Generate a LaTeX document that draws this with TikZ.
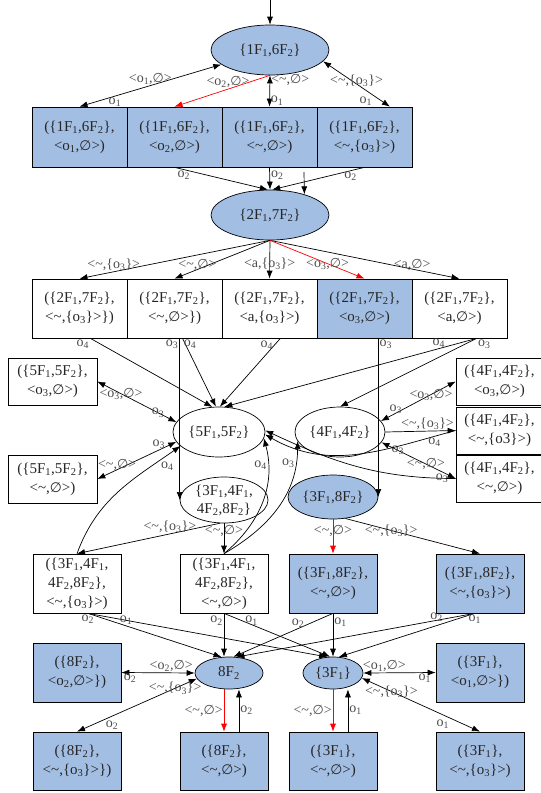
\documentclass[tikz,border=0pt]{standalone}
\usepackage{fontspec}
\setmainfont{Liberation Serif}
\newfontfamily\esfont[Scale=0.92]{DejaVu Sans}
\usetikzlibrary{arrows.meta,shapes.geometric}
\definecolor{stateblue}{RGB}{163,190,227}
\newcommand{\Fx}[1]{F\textsubscript{#1}}
\newcommand{\ox}[1]{o\textsubscript{#1}}
\newcommand{\es}{{\esfont ∅}}
\newcommand{\tl}{\textasciitilde}
\tikzset{
	st/.style={ellipse,draw,inner sep=0pt,align=center,font=\fontsize{15}{18}\selectfont,text=black!85},
	pr/.style={rectangle,draw,inner sep=0pt,align=center,minimum width=88pt,minimum height=59pt,font=\fontsize{15}{19}\selectfont,text=black!85},
	hl/.style={fill=stateblue},
	lab/.style={font=\fontsize{14}{15}\selectfont,text=black!70,inner sep=1pt}
}
\begin{document}
\begin{tikzpicture}[x=1pt,y=-1pt,line width=.7pt,>={Latex[length=8pt,width=6pt]}]
	\useasboundingbox (0,0) rectangle (541,793);
	\node[st,hl,minimum width=118pt,minimum height=50pt] (s1) at (270,50) {\{1\Fx{1},6\Fx{2}\}};
	\node[pr,hl,minimum width=95pt,minimum height=60pt] (b11) at (79.5,137) {(\{1\Fx{1},6\Fx{2}\},\\<\ox{1},\es>)};
	\node[pr,hl,minimum width=95pt,minimum height=60pt] (b12) at (174.5,137) {(\{1\Fx{1},6\Fx{2}\},\\<\ox{2},\es>)};
	\node[pr,hl,minimum width=95pt,minimum height=60pt] (b13) at (269.5,137) {(\{1\Fx{1},6\Fx{2}\},\\<\tl,\es>)};
	\node[pr,hl,minimum width=95pt,minimum height=60pt] (b14) at (364.5,137) {(\{1\Fx{1},6\Fx{2}\},\\<\tl,\{\ox{3}\}>)};
	\node[st,hl,minimum width=118pt,minimum height=50pt] (s2) at (270,215) {\{2\Fx{1},7\Fx{2}\}};
	\node[pr,minimum width=95pt] (b21) at (79.5,308.5) {(\{2\Fx{1},7\Fx{2}\},\\<\tl,\{\ox{3}\}>\})};
	\node[pr,minimum width=95pt] (b22) at (174.5,308.5) {(\{2\Fx{1},7\Fx{2}\},\\<\tl,\es>\})};
	\node[pr,minimum width=95pt] (b23) at (269.5,308.5) {(\{2\Fx{1},7\Fx{2}\},\\<a,\{\ox{3}\}>)};
	\node[pr,hl,minimum width=95pt] (b24) at (364.5,308.5) {(\{2\Fx{1},7\Fx{2}\},\\<\ox{3},\es>)};
	\node[pr,minimum width=95pt] (b25) at (459.5,308.5) {(\{2\Fx{1},7\Fx{2}\},\\<a,\es>)};
	\node[st,minimum width=92pt,minimum height=50pt] (s5) at (219,432) {\{5\Fx{1},5\Fx{2}\}};
	\node[st,minimum width=90pt,minimum height=50pt] (s4) at (340,432) {\{4\Fx{1},4\Fx{2}\}};
	\node[st,minimum width=88pt,minimum height=46pt] (s348) at (224,500) {\{3\Fx{1},4\Fx{1},\\4\Fx{2},8\Fx{2}\}};
	\node[st,hl,minimum width=90pt,minimum height=44pt] (s38) at (333,497) {\{3\Fx{1},8\Fx{2}\}};
	\node[pr,minimum width=89pt,minimum height=47pt] (l1) at (52.5,381.5) {(\{5\Fx{1},5\Fx{2}\},\\<\ox{3},\es>)};
	\node[pr,minimum width=89pt,minimum height=48pt] (l2) at (52.5,479) {(\{5\Fx{1},5\Fx{2}\},\\<\tl,\es>)};
	\node[pr,minimum width=87pt,minimum height=47pt] (r1) at (499.5,381.5) {(\{4\Fx{1},4\Fx{2}\},\\<\ox{3},\es>)};
	\node[pr,minimum width=87pt,minimum height=47pt] (r2) at (499.5,430.5) {(\{4\Fx{1},4\Fx{2}\},\\<\tl,\{o3\}>)};
	\node[pr,minimum width=87pt,minimum height=47pt] (r3) at (499.5,478.5) {(\{4\Fx{1},4\Fx{2}\},\\<\tl,\es>)};
	\node[pr] (c1) at (77,583.5) {(\{3\Fx{1},4\Fx{1},\\4\Fx{2},8\Fx{2}\},\\<\tl,\{\ox{3}\}>)};
	\node[pr] (c2) at (224,583.5) {(\{3\Fx{1},4\Fx{1},\\4\Fx{2},8\Fx{2}\},\\<\tl,\es>)};
	\node[pr,hl] (c3) at (333,583.5) {(\{3\Fx{1},8\Fx{2}\},\\<\tl,\es>)};
	\node[pr,hl] (c4) at (480,583.5) {(\{3\Fx{1},8\Fx{2}\},\\<\tl,\{\ox{3}\}>)};
	\node[pr,hl] (d1) at (77,672.5) {(\{8\Fx{2}\},\\<\ox{2},\es>\})};
	\node[st,hl,minimum width=68pt,minimum height=32pt] (e8) at (229,673) {8\Fx{2}};
	\node[st,hl,minimum width=60pt,minimum height=32pt] (e3) at (333,673) {\{3\Fx{1}\}};
	\node[pr,hl] (d4) at (480,672.5) {(\{3\Fx{1}\},\\<\ox{1},\es>\})};
	\node[pr,hl,minimum height=58pt] (f1) at (77,761) {(\{8\Fx{2}\},\\<\tl,\{\ox{3}\}>\})};
	\node[pr,hl,minimum height=58pt] (f2) at (224,761) {(\{8\Fx{2}\},\\<\tl,\es>)};
	\node[pr,hl,minimum height=58pt] (f3) at (333,761) {(\{3\Fx{1}\},\\<\tl,\es>)};
	\node[pr,hl,minimum height=58pt] (f4) at (480,761) {(\{3\Fx{1}\},\\<\tl,\{\ox{3}\}>)};
	\coordinate (in1) at (270,0);
	\coordinate (in2) at (304,172);

	\draw[->] (in1) -- (s1.north);
	\path[<->]
	(b11.north) edge node[lab,pos=.5,above] {<\ox{1},\es>} node[lab,pos=.25,below] {\ox{1}} (s1)
	(b13.north) edge node[lab,pos=.84,right] {<\tl,\es>} node[lab,pos=.19,right] {\ox{1}} (s1.south)
	(b14.50) edge node[lab,pos=.5,yshift=3pt] {<\tl,\{\ox{3}\}>} node[lab,pos=.25,below left] {\ox{1}} (s1.-12);
	\draw[->,red] (s1.south) -- node[lab,pos=.44,above] {<\ox{2},\es>} (b12.north);

	\path[->]
	(b12.south) edge node[lab,pos=.1,below] {\ox{2}} (s2.95)
	(b13.south) edge node[lab,pos=.35,right] {\ox{2}} (s2.north)
	(b14.south) edge node[lab,pos=.15,below] {\ox{2}} (s2.85)
	(in2) edge (s2.31);

	\path[->]
	(s2.south) edge node[lab,pos=.82,above] {<\tl,\{\ox{3}\}>} (b21.north)
	(s2.south) edge node[lab,pos=.76,yshift=4pt] {<\tl,\es>} (b22.north)
	(s2.south) edge node[lab,pos=.62] {<a,\{\ox{3}\}>} (b23.north)
	(s2.south) edge node[lab,pos=.75,yshift=4pt] {<a,\es>} (b25.north);
	\draw[->,red] (s2.south) -- node[lab,pos=.61] {<\ox{3},\es>} (b24.north);

	\path[->]
	(b21.-70) edge node[lab,pos=0,below left] {\ox{4}} (s5.105)
	(b22.-75) edge node[lab,pos=0,below right] {\ox{4}} (s5.97)
	(b23.-70) edge node[lab,pos=.1,left] {\ox{4}} (s5.88)
	(b25.-60) edge node[lab,pos=.15,above] {\ox{4}} (s5.78)
	(b25.-60) edge node[lab,pos=0,below right] {\ox{3}} (s4.north)
	(s348.west |- b22.south) edge node[lab,pos=0,below left] {\ox{3}} (s348.west)
	(s38.east |- b24.south) edge node[lab,pos=0,below right] {\ox{3}} (s38.east);

	\path[<->]
	(l1.east) edge node[lab,pos=.3] {<\ox{3},\es>} node[lab,pos=.77] {\ox{3}} (s5.167)
	(l2.east) edge node[lab,pos=.25,yshift=5pt] {<\tl,\es>} node[lab,pos=.78,yshift=6pt] {\ox{3}} (s5.193);
	\draw[->] (c1.north) to[out=70,in=215] node[lab,pos=.85,below right] {\ox{4}} (s5.200);
	\draw[->] (c2.north) to[out=40,in=-75] node[lab,pos=.8,left] {\ox{4}} (s5.-8);
	\draw[->] (c2.north) to[out=30,in=-90] node[lab,pos=.85,left] {\ox{3}} (s4.192);

	\path[<->]
	(s4.15) edge node[lab,pos=.2,yshift=4pt] {\ox{3}} node[lab,pos=.67] {<\ox{3},\es>} (r1.west)
	(s4.-14) edge node[lab,pos=.22] {\ox{3}} node[lab,pos=.6] {<\tl,\es>} (r3.west);
	\draw[->] (s4.east) -- node[lab,pos=.6,above] {<\tl,\{\ox{3}\}>} (r2.west);
	\draw[->] (r2.west) to[out=195,in=-30] node[lab,pos=.1,below] {\ox{4}} (s5.-3);
	\draw[->] (r3.west) to[out=180,in=-25] node[lab,pos=.06] {\ox{3}} (s5.2);

	\path[->]
	(s348.-100) edge node[lab,pos=.35,above] {<\tl,\{\ox{3}\}>} (c1.north)
	(s348.south) edge node[lab,pos=.25] {<\tl,\es>} (c2.north);
	\draw[->,red] (s38.south) -- node[lab,pos=.34] {<\tl,\es>} (c3.north);
	\draw[->] (s38.-60) -- node[lab,pos=.34] {<\tl,\{\ox{3}\}>} (c4.north);

	\path[->]
	(c1.-70) edge node[lab,pos=0,below] {\ox{2}} (e8.115)
	(c1.-70) edge node[lab,pos=.16] {\ox{1}} (e3.110)
	(c2.south) edge node[lab,pos=.17,left] {\ox{2}} (e8.north -| c2.south)
	(c2.south) edge node[lab,pos=.26,yshift=4pt] {\ox{1}} (e3.100)
	(c3.south) edge node[lab,pos=.35,above] {\ox{2}} (e8.75)
	(c3.south) edge node[lab,pos=.2,right] {\ox{1}} (e3.north)
	(c4.-100) edge node[lab,pos=.16,yshift=3pt] {\ox{2}} (e8.65)
	(c4.-100) edge node[lab,pos=0,below] {\ox{1}} (e3.70);

	\path[<->]
	(e8.west) edge node[lab,pos=.32,above] {<\ox{2},\es>} node[lab,pos=.88,below] {\ox{2}} (d1.east)
	(e8.190) edge node[lab,pos=.18] {<\tl,\{\ox{3}\}>} node[lab,pos=.77,below right] {\ox{2}} (f1.north)
	(e3.east) edge node[lab,pos=.29,above] {<\ox{1},\es>} node[lab,pos=.85,below] {\ox{1}} (d4.west)
	(e3.-10) edge node[lab,pos=.25] {<\tl,\{\ox{3}\}>} node[lab,pos=.75,below left] {\ox{1}} (f4.north);
	\draw[->,red] (f2.north |- e8.south) -- node[lab,left] {<\tl,\es>} (f2.north);
	\draw[->] (f2.63) -- node[lab,right] {\ox{2}} (f2.63 |- e8.south);
	\draw[->,red] (e3.south) -- node[lab,left] {<\tl,\es>} (f3.north);
	\draw[->] (f3.63) -- node[lab,right] {\ox{1}} (f3.63 |- e3.south);
\end{tikzpicture}
\end{document}
